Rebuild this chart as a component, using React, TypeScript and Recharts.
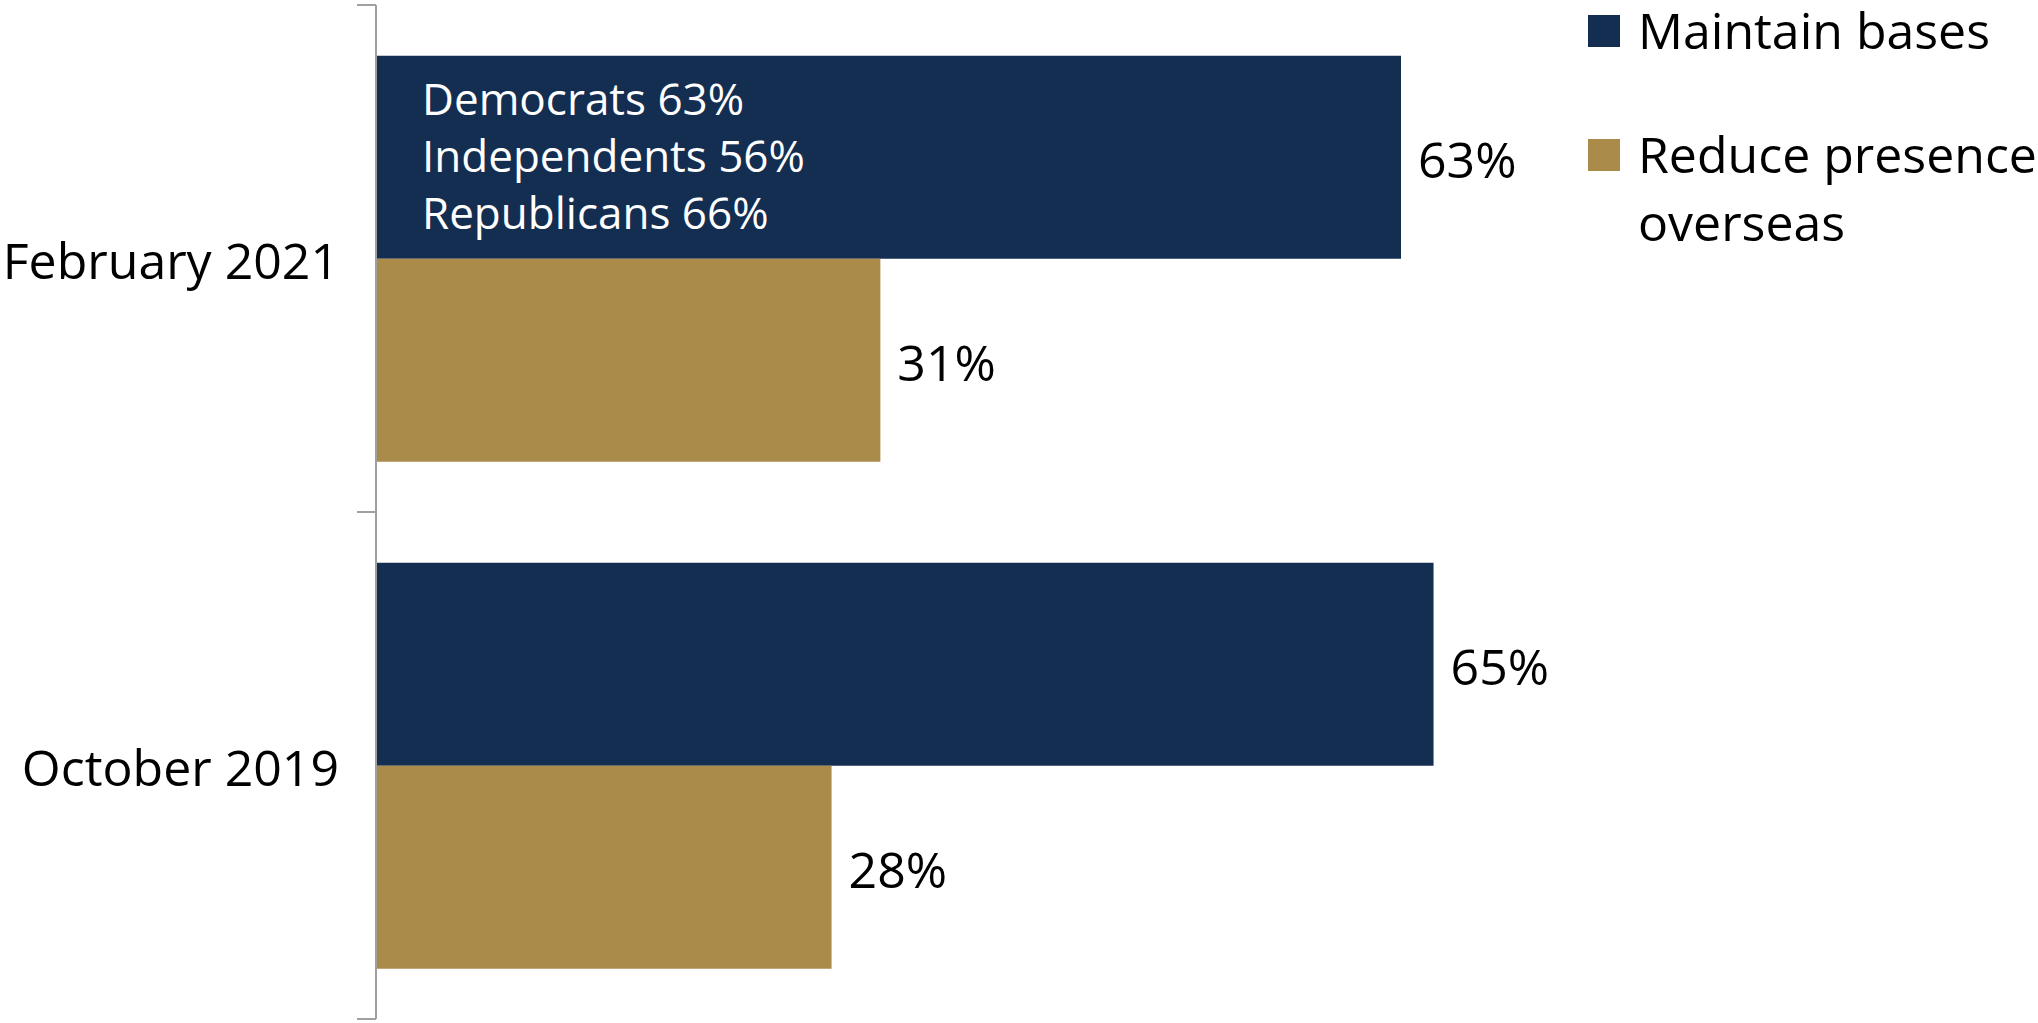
import React from 'react';
import { BarChart, Bar, XAxis, YAxis, LabelList, Legend } from 'recharts';

// --- data ---
const periods = ['February 2021', 'October 2019'];
const maintainBases = [63, 65];
const reducePresence = [31, 28];
const partyBreakdown = ['Democrats 63%', 'Independents 56%', 'Republicans 66%'];

const seriesNames = ['Maintain bases', 'Reduce presence overseas'];
const NAVY = '#142e52';
const GOLD = '#ab8b4a';
const FONT = '"Open Sans", "Noto Sans", sans-serif';

const data = periods.map((p, i) => ({
  period: p,
  maintain: maintainBases[i],
  reduce: reducePresence[i],
}));

// category tick: label text plus tick marks at band edges (Excel "between" style)
const CategoryTick = (props: any) => {
  const { x, y, payload } = props;
  const half = payload && payload.offset ? payload.offset : 253.5;
  const x1 = x + 18;
  const x2 = x1 + 19;
  return (
    <g>
      <line x1={x1} x2={x2} y1={y - half} y2={y - half} stroke="#a0a0a0" strokeWidth={2} />
      <line x1={x1} x2={x2} y1={y + half} y2={y + half} stroke="#a0a0a0" strokeWidth={2} />
      <text x={x} y={y} dy={20} textAnchor="end" fill="#000" fontSize={50} fontFamily={FONT}>
        {payload.value}
      </text>
    </g>
  );
};

// party split written inside the first navy bar
const PartyNote = (props: any) => {
  const { x, y, index } = props;
  if (index !== 0) return null;
  return (
    <text x={x + 46} y={y + 59} fill="#fff" fontSize={44} fontFamily={FONT}>
      {partyBreakdown.map((t, i) => (
        <tspan key={t} x={x + 46} dy={i === 0 ? 0 : 57}>
          {t}
        </tspan>
      ))}
    </text>
  );
};

const renderLegend = () => {
  const colors = [NAVY, GOLD];
  const tops = [-4, 120];
  return (
    <div style={{ position: 'relative', width: 450, height: 260, fontFamily: FONT }}>
      {seriesNames.map((name, i) => (
        <div key={name} style={{ position: 'absolute', left: 0, top: tops[i] }}>
          <div style={{ position: 'absolute', left: 0, top: 19, width: 32, height: 32, background: colors[i] }} />
          <div style={{ position: 'absolute', left: 50, top: 0, width: 400, fontSize: 50, lineHeight: '68px', color: '#000' }}>
            {i === 1 ? (
              <>
                Reduce presence
                <br />
                overseas
              </>
            ) : (
              name
            )}
          </div>
        </div>
      ))}
    </div>
  );
};

export default function App() {
  return (
    <div style={{ position: 'absolute', left: 0, top: 0, width: 2038, height: 1023, background: '#fff' }}>
      <BarChart
        width={2038}
        height={1023}
        data={data}
        layout="vertical"
        margin={{ top: 5, right: 35, left: 0, bottom: 4 }}
        barCategoryGap="10%"
        barGap={0}
      >
        <XAxis type="number" domain={[0, 100]} hide />
        <YAxis
          type="category"
          dataKey="period"
          width={376}
          axisLine={{ stroke: '#a0a0a0', strokeWidth: 2 }}
          tickLine={false}
          tickSize={19}
          tickMargin={18}
          tick={<CategoryTick />}
          interval={0}
        />
        <Legend
          layout="vertical"
          align="center"
          verticalAlign="middle"
          content={renderLegend}
          wrapperStyle={{ left: 1588, top: 0, width: 450 }}
        />
        <Bar dataKey="maintain" name={seriesNames[0]} fill={NAVY} isAnimationActive={false}>
          <LabelList
            dataKey="maintain"
            position="right"
            offset={17}
            dy={3}
            formatter={(v: any) => `${v}%`}
            fill="#000"
            fontSize={50}
            fontFamily={FONT}
          />
          <LabelList dataKey="maintain" content={<PartyNote />} />
        </Bar>
        <Bar dataKey="reduce" name={seriesNames[1]} fill={GOLD} isAnimationActive={false}>
          <LabelList
            dataKey="reduce"
            position="right"
            offset={17}
            dy={3}
            formatter={(v: any) => `${v}%`}
            fill="#000"
            fontSize={50}
            fontFamily={FONT}
          />
        </Bar>
      </BarChart>
    </div>
  );
}
